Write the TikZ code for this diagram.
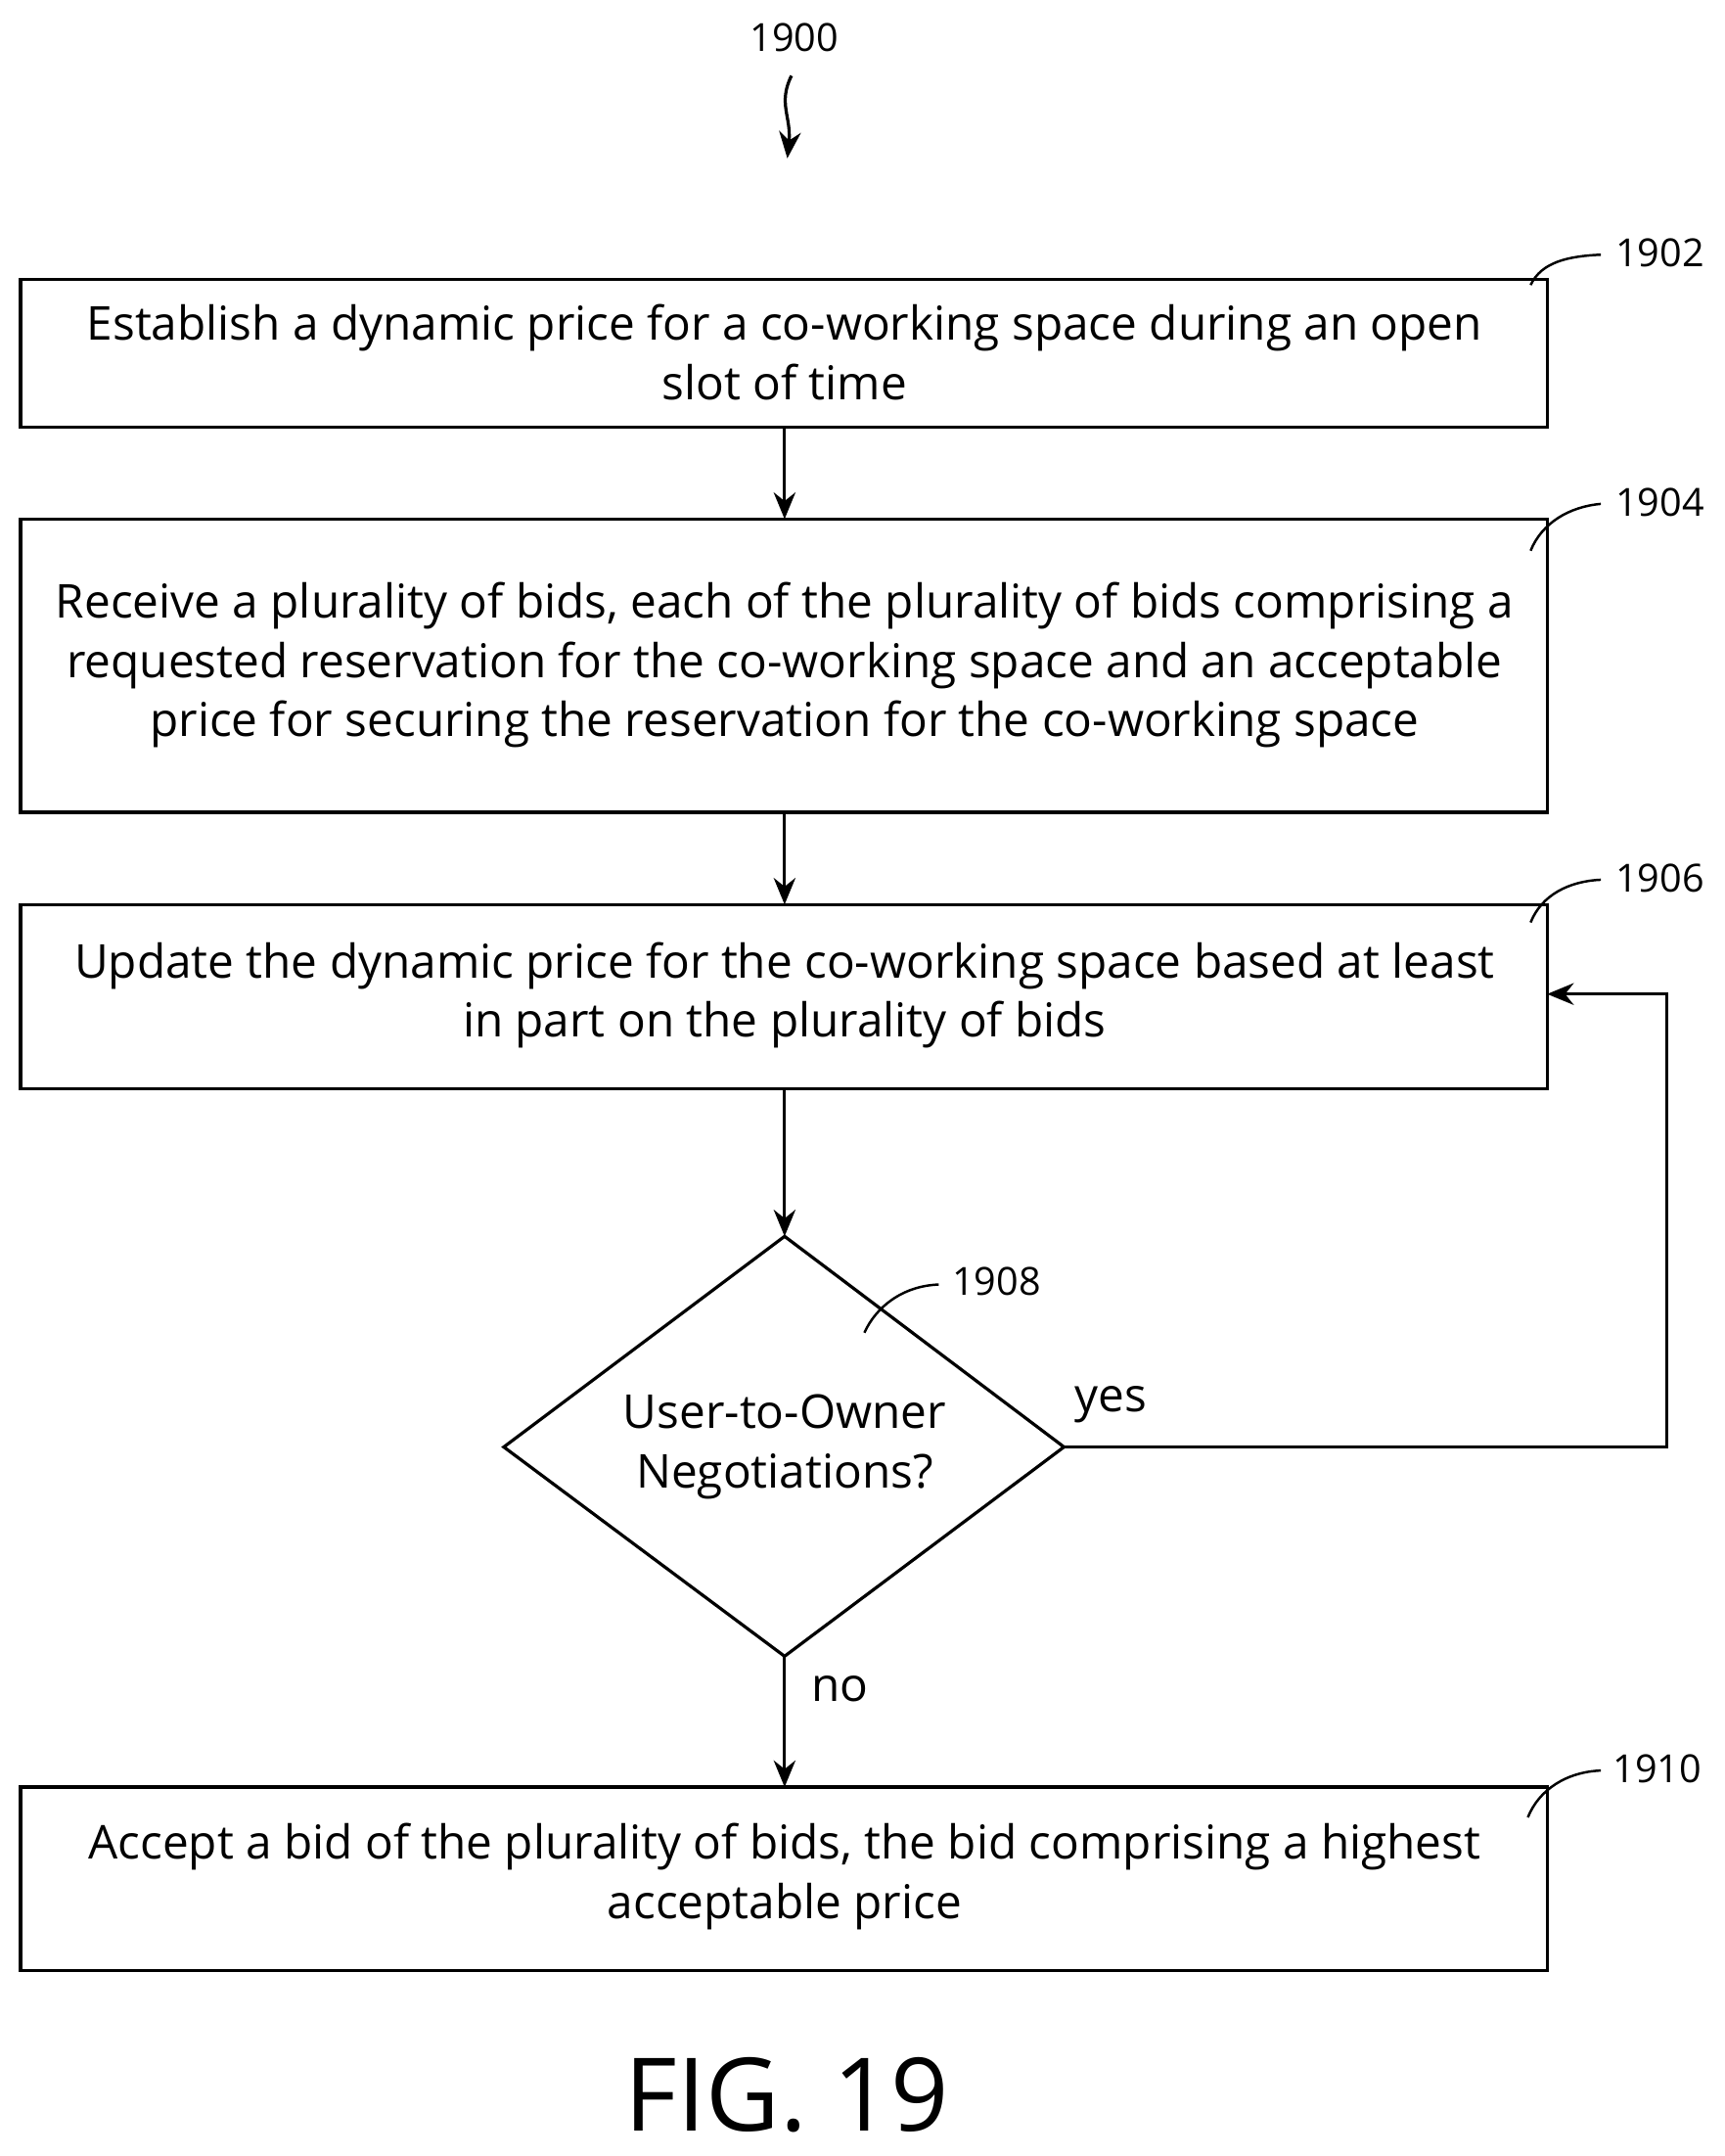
\documentclass[tikz,border=0pt]{standalone}
\usepackage{fontspec}
\setmainfont{Open Sans}
\usetikzlibrary{arrows.meta}
\begin{document}
\begin{tikzpicture}[x=0.02cm,y=-0.02cm,
  box/.style={draw,line width=1.3pt,inner sep=0pt},
  txt/.style={font=\fontsize{19.3}{24.5}\selectfont,align=center},
  lbl/.style={font=\fontsize{16}{18}\selectfont},
  arr/.style={-{Stealth[length=11pt,width=9pt]},line width=1.3pt},
  lead/.style={line width=1pt}]
\useasboundingbox (0,0) rectangle (1253,1566);
\fill[white] (0,0) rectangle (1253,1566);
% boxes
\draw[box] (15,203) rectangle (1124,310);
\node[txt] (b1) at (570,256) {Establish a dynamic price for a co-working space during an open\\slot of time};
\draw[box] (15,377) rectangle (1124,590);
\node[txt] (b2) at (570,483) {Receive a plurality of bids, each of the plurality of bids comprising a\\requested reservation for the co-working space and an acceptable\\price for securing the reservation for the co-working space};
\draw[box] (15,657) rectangle (1124,791);
\node[txt] (b3) at (570,723) {Update the dynamic price for the co-working space based at least\\in part on the plurality of bids};
\draw[box] (570,898) -- (773,1051) -- (570,1203) -- (366,1051) -- cycle;
\node[txt] (d) at (570,1051) {User-to-Owner\\Negotiations?};
\draw[box] (15,1298) rectangle (1124,1431);
\node[txt] (b5) at (570,1363) {Accept a bid of the plurality of bids, the bid comprising a highest\\acceptable price};
% coordinates
\coordinate (t1) at (570,310); \coordinate (t2) at (570,377);
\coordinate (t3) at (570,590); \coordinate (t4) at (570,657);
\coordinate (t5) at (570,791); \coordinate (t6) at (570,898);
\coordinate (t7) at (570,1203); \coordinate (t8) at (570,1298);
\coordinate (dr) at (773,1051); \coordinate (c1) at (1211,1051);
\coordinate (c2) at (1211,722); \coordinate (br) at (1124,722);
\draw[arr] (t1) -- (t2);
\draw[arr] (t3) -- (t4);
\draw[arr] (t5) -- (t6);
\draw[arr] (t7) -- (t8);
\draw[arr] (dr) -- (c1) -- (c2) -- (br);
\node[txt] (yes) at (807,1020) {yes};
\node[txt] (no) at (610,1227) {no};
% reference labels
\node[lbl] (n1900) at (577,27) {1900};
\coordinate (a0) at (575,55); \coordinate (a1) at (572,115);
\draw[arr] (a0) .. controls (565,75) and (575,85) .. (a1);
\node[lbl] (n1902) at (1206,184) {1902};
\draw[lead] (1112,207) .. controls (1120,190) and (1140,186) .. (1163,185);
\node[lbl] (n1904) at (1206,365) {1904};
\draw[lead] (1112,400) .. controls (1120,380) and (1140,368) .. (1163,366);
\node[lbl] (n1906) at (1206,638) {1906};
\draw[lead] (1112,670) .. controls (1120,650) and (1140,640) .. (1163,639);
\node[lbl] (n1908) at (724,931) {1908};
\draw[lead] (628,968) .. controls (636,950) and (655,934) .. (682,933);
\node[lbl] (n1910) at (1204,1285) {1910};
\draw[lead] (1110,1320) .. controls (1118,1300) and (1138,1287) .. (1163,1286);
\node[font=\fontsize{42}{46}\selectfont] (fig) at (572,1522) {FIG. 19};
\end{tikzpicture}
\end{document}
